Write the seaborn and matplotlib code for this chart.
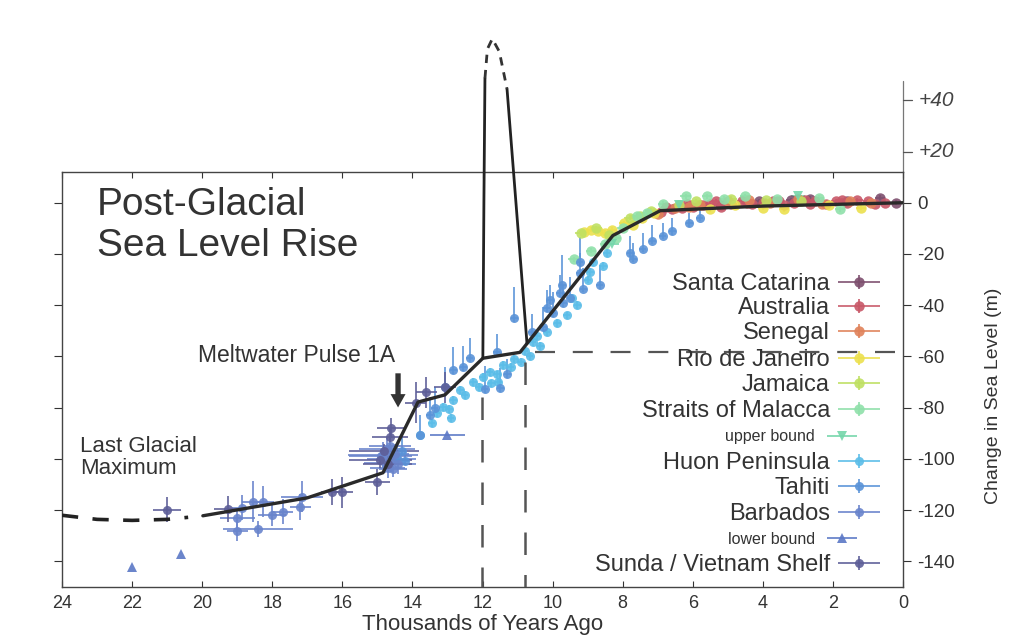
import matplotlib
matplotlib.use("Agg")
import matplotlib.pyplot as plt
import seaborn as sns
from matplotlib.container import ErrorbarContainer
from matplotlib.legend_handler import HandlerErrorbar

sns.set_theme(style="ticks")
plt.rcParams['font.family'] = ['Liberation Sans', 'DejaVu Sans']

# ---------------- data (thousands of years ago, metres) ----------------
curve_age = [19.98, 17.0, 14.84, 13.84, 13.07, 11.99, 10.93, 8.28, 6.93, 4.0, 0.0]
curve_sl = [-122.2, -115.2, -105.4, -77.8, -75.0, -60.7, -58.4, -12.8, -3.1, -1.3, 0.0]
lgm_age = [24.0, 23.0, 22.0, 21.0, 20.4]
lgm_sl = [-122.0, -123.6, -124.0, -123.6, -122.8]
spike_up_age = [11.99, 11.96, 11.93]
spike_up_sl = [-60.7, 0.0, 48.6]
spike_down_age = [11.30, 10.73]
spike_down_sl = [44.4, -55.0]
spike_cap_age = [11.93, 11.86, 11.72, 11.52, 11.30]
spike_cap_sl = [48.6, 60.0, 64.0, 59.0, 44.4]
ref_level = -58.3
ref_ages = [12.01, 10.80]
ref_tops = [-76.0, -62.0]
yticks = [0, -20, -40, -60, -80, -100, -120, -140]
xticks = [24, 22, 20, 18, 16, 14, 12, 10, 8, 6, 4, 2, 0]

sc_age = [5.2, 4.1, 3.2, 2.65, 1.6, 0.66, 0.2]
sc_sl = [-1.0, 0.5, 1.0, 1.5, 0.5, 2.0, 0.0]

au_age = [6.9, 6.6, 6.3, 6.0, 5.7, 5.5, 5.2, 4.9, 4.6, 4.3, 4.0, 3.7, 3.4, 3.1,
          2.8, 2.5, 2.2, 1.9, 1.6, 1.3, 1.0, 0.8, 0.5, 6.75, 6.15, 5.35, 4.45,
          3.55, 2.65, 1.75]
au_sl = [-3.5, -2.5, -2.0, -1.5, -1.0, -0.5, -1.5, -0.5, 0.5, -0.5, 0.0, 0.5, -1.0,
         0.0, 1.0, 0.5, -0.5, 0.5, 0.0, 1.0, 0.5, -0.5, 0.0, -1.5, -0.5, 0.5, 0.0,
         0.5, -0.5, 1.0]

sen_age = [7.0, 6.5, 6.1, 5.8, 5.0, 4.4, 3.8, 3.0, 2.3, 1.5, 0.9]
sen_sl = [-4.5, -2.0, -1.5, -1.0, 0.5, 1.0, 0.0, 1.5, -0.5, 0.5, 0.0]

rio_age = [9.1, 8.9, 8.7, 8.5, 8.3, 7.95, 7.7, 7.45, 7.1, 5.5, 4.8, 4.0, 3.4, 2.1, 1.2]
rio_sl = [-11.5, -10.5, -11.2, -11.8, -10.5, -8.0, -8.5, -6.0, -4.0, -2.5, -1.0,
          -2.0, -2.5, -1.0, -2.0]

jam_age = [9.2, 8.75, 8.4, 7.8, 7.5, 7.2, 6.4, 5.9, 4.9, 3.9, 2.9]
jam_sl = [-11.7, -10.0, -12.5, -5.8, -5.0, -3.1, -1.0, 0.5, 1.5, 1.0, 0.5]

sm_age = [9.4, 8.9, 8.5, 8.2, 8.0, 7.6, 7.3, 6.85, 6.2, 5.6, 5.1, 4.5, 3.6, 2.4, 1.8]
sm_sl = [-22.0, -18.7, -16.0, -13.6, -10.0, -5.0, -4.0, -0.4, 2.5, 2.5, 1.5, 2.5,
         1.5, 2.0, -2.5]

ub_age = [8.3, 6.4, 3.0]
ub_sl = [-16.0, -1.0, 2.5]

hu_age = [13.78, 13.30, 13.13, 12.84, 12.64, 12.50, 12.27, 12.00, 11.80, 11.60,
          11.41, 11.10, 10.80, 10.56, 10.45, 10.16, 9.87, 9.45, 8.93, 8.85, 8.56,
          8.45, 11.55, 12.90, 10.90, 12.10, 11.75, 11.20, 10.65, 10.35, 9.60,
          9.30, 9.00, 12.95, 13.45]
hu_sl = [-90.7, -82.0, -79.8, -77.0, -73.0, -75.0, -70.0, -68.0, -66.0, -67.0,
         -63.4, -61.0, -58.0, -54.5, -52.0, -50.6, -47.0, -37.0, -27.0, -23.3,
         -24.5, -19.5, -70.0, -84.0, -62.0, -72.0, -70.5, -64.0, -60.0, -56.0,
         -44.0, -40.0, -30.0, -80.5, -86.0]

tah_age = [14.30, 14.20, 14.44, 13.78, 13.50, 13.36, 13.07, 12.84, 12.36, 11.93,
           11.59, 11.50, 11.30, 11.10, 10.27, 10.16, 9.99, 9.70, 9.73, 10.07, 9.79,
           9.13, 8.65, 9.22, 9.22, 7.70, 7.79, 7.42, 7.16, 6.85, 6.59, 5.80, 6.10,
           12.55, 10.60, 9.50]
tah_sl = [-97.0, -101.0, -99.6, -90.7, -83.0, -80.0, -72.0, -65.4, -60.7, -72.8,
          -58.4, -72.4, -67.0, -45.0, -48.6, -41.2, -43.0, -39.3, -32.3, -38.0,
          -35.4, -33.5, -32.3, -27.6, -23.3, -21.8, -19.8, -17.9, -14.8, -12.8,
          -10.9, -5.8, -8.0, -64.0, -50.5, -37.0]
tah_err_up = [6, 5, 6, 8, 7, 8, 8, 9, 8, 9, 7, 8, 6, 12, 8, 7, 8, 7, 12, 6, 7, 8,
              8, 8, 10, 6, 7, 6, 6, 5, 5, 4, 4, 8, 7, 8]
tah_err_lo = [1.5] * len(tah_age)

bb_age = [18.86, 18.55, 18.26, 19.00, 19.00, 18.40, 18.00, 17.70, 17.20, 17.15,
          14.73, 14.84, 14.78, 14.70, 14.60, 14.50, 14.90, 14.65, 14.40, 14.55]
bb_sl = [-119.0, -116.7, -116.7, -123.0, -128.0, -127.4, -122.0, -120.6, -118.7,
         -114.8, -96.0, -98.4, -101.6, -103.5, -100.0, -98.0, -99.0, -95.0, -102.0,
         -104.0]
bb_xerr = [0.3, 0.3, 0.3, 0.5, 0.3, 1.0, 0.4, 0.3, 0.3, 0.6, 0.8, 1.0, 0.6, 0.5,
           0.7, 0.4, 0.9, 0.6, 0.5, 0.4]
bb_yerr = [5, 8, 6, 4, 4, 3, 4, 5, 5, 6, 4, 5, 4, 4, 5, 4, 3, 4, 4, 3]

lb_age = [22.0, 20.6, 13.0]
lb_sl = [-142.0, -137.0, -90.5]
lb_xerr = [0.0, 0.0, 0.5]

sv_age = [21.0, 19.26, 16.3, 16.0, 15.0, 14.6, 14.64, 14.80, 14.92, 14.70, 13.90,
          13.60, 13.07]
sv_sl = [-119.8, -119.5, -113.0, -113.0, -109.0, -88.0, -91.4, -97.0, -100.5,
         -102.0, -78.0, -74.0, -72.0]
sv_xerr = [0.4, 0.4, 0.3, 0.3, 0.35, 0.4, 0.5, 1.0, 0.9, 0.7, 0.3, 0.3, 0.3]
sv_yerr = [5, 5, 5, 6, 5, 4, 3, 3, 3, 3, 8, 6, 6]

labels = ["Santa Catarina", "Australia", "Senegal", "Rio de Janeiro", "Jamaica",
          "Straits of Malacca", "upper bound", "Huon Peninsula", "Tahiti",
          "Barbados", "lower bound", "Sunda / Vietnam Shelf"]
colors = ["#7d4f6e", "#c85868", "#e0825a", "#ece04e", "#bfe062", "#8fe0aa",
          "#74d6aa", "#5bbde8", "#5a93d8", "#6984cc", "#5b78c6", "#5d5e98"]

# ---------------- figure ----------------
W, H = 1026, 638
fig = plt.figure(figsize=(W / 100, H / 100), dpi=100)
ax = fig.add_axes([62 / W, 1 - 587 / H, 841 / W, 415 / H])
ax.set_xlim(24, 0)
ax.set_ylim(-150, 12)

ebkw = dict(elinewidth=1.3, capsize=0, markeredgewidth=0, zorder=2)
conts = []
def series(x, y, xe, ye, c, lab, m='o', ms=6.5, alpha=0.9):
    cont = ax.errorbar(x, y, xerr=xe, yerr=ye, fmt=m, color=c, ecolor=c,
                       alpha=alpha, label=lab, markersize=ms, **ebkw)
    conts.append(cont)

series(sc_age, sc_sl, 0.15, 1.0, colors[0], labels[0], ms=7.5)
series(au_age, au_sl, 0.15, 1.0, colors[1], labels[1], ms=7.5)
series(sen_age, sen_sl, 0.15, 1.0, colors[2], labels[2], ms=7.5)
series(rio_age, rio_sl, 0.15, 1.0, colors[3], labels[3], ms=7.5)
series(jam_age, jam_sl, 0.15, 1.0, colors[4], labels[4], ms=7.5)
series(sm_age, sm_sl, 0.15, 1.0, colors[5], labels[5], ms=7.5)
series(ub_age, ub_sl, 0.2, None, colors[6], labels[6], m='v')
series(hu_age, hu_sl, 0.1, 1.5, colors[7], labels[7])
series(tah_age, tah_sl, 0.1, [tah_err_lo, tah_err_up], colors[8], labels[8])
series(bb_age, bb_sl, bb_xerr, bb_yerr, colors[9], labels[9])
series(lb_age, lb_sl, lb_xerr, None, colors[10], labels[10], m='^')
series(sv_age, sv_sl, sv_xerr, sv_yerr, colors[11], labels[11])

# reference dashed lines
ax.axhline(ref_level, xmin=(24 - 10.5) / 24, xmax=1.0, color="#555555", lw=1.6,
           ls=(0, (9, 8)), zorder=1)
for a, t in zip(ref_ages, ref_tops):
    ax.plot([a, a], [t, -150], color="#555555", lw=1.8, ls=(0, (9, 8)), zorder=3)

# sea level curve
sns.lineplot(x=lgm_age, y=lgm_sl, ax=ax, color="#222222", lw=2.6, sort=False,
             estimator=None, linestyle=(0, (4.5, 4)), zorder=4, legend=False)
sns.lineplot(x=curve_age, y=curve_sl, ax=ax, color="#2a2a2a", lw=2.4, sort=False,
             estimator=None, zorder=4, legend=False)
ax.plot(spike_up_age, spike_up_sl, color="#222222", lw=2.0, zorder=4, clip_on=False)
ax.plot(spike_down_age, spike_down_sl, color="#222222", lw=2.0, zorder=4, clip_on=False)
ax.plot(spike_cap_age, spike_cap_sl, color="#333333", lw=2.0, ls=(0, (3, 2.5)),
        zorder=4, clip_on=False)
if ax.get_legend() is not None:
    ax.get_legend().remove()

# right axis hand-drawn extension
ax.plot([0, 0], [12, 47.5], color="#777777", lw=0.9, clip_on=False)
for v in [20, 40]:
    ax.plot([0, -0.25], [v, v], color="#555555", lw=0.9, clip_on=False)
    ax.text(-0.45, v, f"+{v}", fontsize=15, style='italic', color="#444444",
            ha='left', va='center', clip_on=False)

# texts
ax.text(23.0, 6.0, "Post-Glacial\nSea Level Rise", fontsize=28, color="#333333",
        ha='left', va='top', linespacing=1.15)
ax.text(17.3, -59.5, "Meltwater Pulse 1A", fontsize=16.5, color="#333333",
        ha='center', va='center')
ax.annotate("", xy=(14.41, -81.0), xytext=(14.41, -65.5),
            arrowprops=dict(arrowstyle="simple,head_width=0.9,head_length=0.8,tail_width=0.32",
                            color="#333333", lw=0))
ax.text(23.49, -91.0, "Last Glacial\nMaximum", fontsize=16, color="#333333",
        ha='left', va='top', linespacing=1.05)

# axes styling
ax.set_xticks(xticks)
ax.set_yticks(yticks)
ax.set_xticklabels([str(v) for v in xticks])
ax.set_yticklabels([str(v) for v in yticks])
ax.tick_params(axis='y', left=True, right=True, labelleft=False, labelright=True,
               direction='out', length=6, width=0.8, labelsize=13.5, pad=4,
               colors="#333333")
ax.tick_params(axis='x', top=True, bottom=True, direction='in', length=4,
               width=0.8, labelsize=13, pad=6, colors="#333333")
for s in ax.spines.values():
    s.set_color("#444444")
    s.set_linewidth(1.0)
ax.set_xlabel("Thousands of Years Ago", fontsize=16, color="#333333")
ax.xaxis.set_label_coords(0.5, -0.065)
ax.set_ylabel("Change in Sea Level (m)", fontsize=14, color="#333333")
ax.yaxis.set_label_position('right')
ax.yaxis.set_label_coords(1.097, 0.46)

# legend: one row each, right aligned text, handle on the right
leg_y = [284, 308, 333, 360, 385, 411, 437, 463, 488, 514, 539, 565]
small = {6, 10}
for i, (cont, lab) in enumerate(zip(conts, labels)):
    if i in small:
        fs, hl, tp, xs, xr = 11.5, 1.85, 0.8, 0.95, 857
    else:
        fs, hl, tp, xs, xr = 17, 1.78, 0.34, 0.89, 880
    lg = fig.legend([cont], [lab], loc='center right',
                    bbox_to_anchor=(xr / W, 1 - leg_y[i] / H), frameon=False,
                    fontsize=fs, handlelength=hl, handletextpad=tp, borderpad=0,
                    borderaxespad=0, markerfirst=False,
                    handler_map={ErrorbarContainer: HandlerErrorbar(xerr_size=xs, yerr_size=0.3)})
    for t in lg.get_texts():
        t.set_color("#333333")

fig.savefig("out.png", dpi=100)
